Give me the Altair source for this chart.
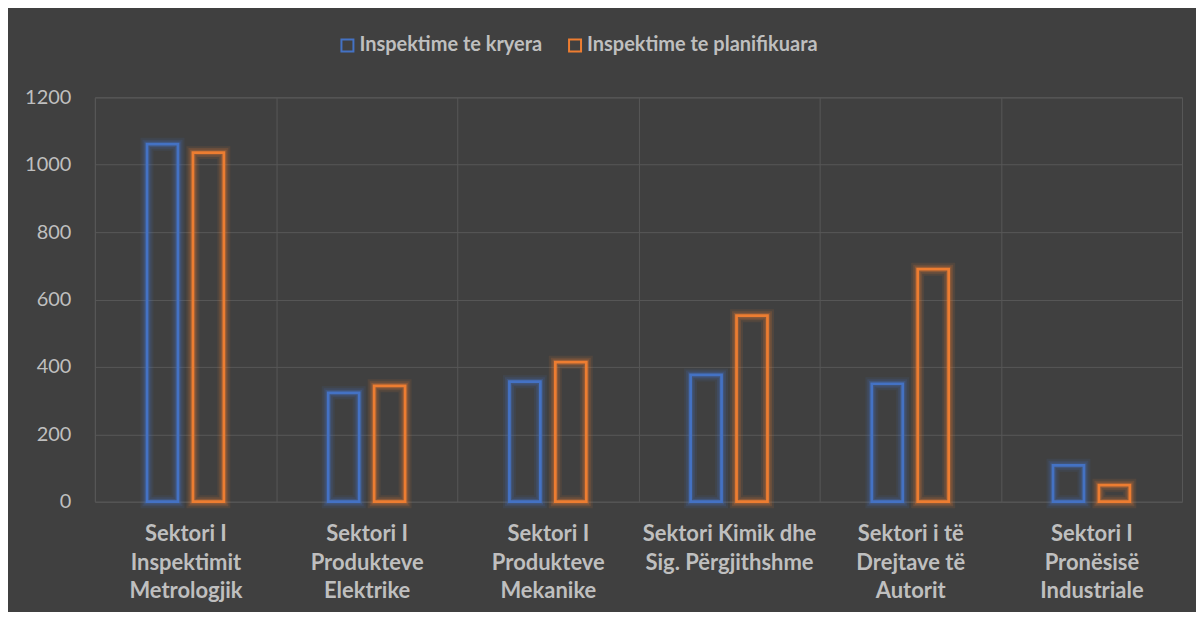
import altair as alt
import pandas as pd

categories = [
    "Sektori I\nInspektimit\nMetrologjik",
    "Sektori I\nProdukteve\nElektrike",
    "Sektori I\nProdukteve\nMekanike",
    "Sektori Kimik dhe\nSig. Përgjithshme",
    "Sektori i të\nDrejtave të\nAutorit",
    "Sektori I\nPronësisë\nIndustriale",
]
series = ["Inspektime te kryera", "Inspektime te planifikuara"]
kryera = [1061, 323, 356, 376, 350, 108]
planifikuara = [1036, 344, 414, 552, 690, 49]
colors = ["#4472c4", "#ed7d31"]

rows = []
for c, a, b in zip(categories, kryera, planifikuara):
    rows.append({"category": c, "series": series[0], "value": a})
    rows.append({"category": c, "series": series[1], "value": b})
df = pd.DataFrame(rows)

FONT = "Lato"
TXT = "#bfbfbf"
GRID = "#575757"

x_enc = alt.X(
    "category:N",
    sort=categories,
    title=None,
    scale=alt.Scale(paddingInner=0, paddingOuter=0),
    axis=alt.Axis(
        labelExpr="split(datum.label, '\\n')",
        labelAngle=0,
        labelFont=FONT,
        labelFontSize=22,
        labelFontWeight="bold",
        labelColor=TXT,
        labelLineHeight=28.5,
        labelPadding=22,
        labelBaseline="top",
        tickBand="extent",
        grid=True,
        gridColor=GRID,
        gridWidth=1,
        ticks=False,
        domain=False,
    ),
)
y_enc = alt.Y(
    "value:Q",
    title=None,
    scale=alt.Scale(domain=[0, 1200]),
    axis=alt.Axis(
        values=[0, 200, 400, 600, 800, 1000, 1200],
        format="d",
        labelFont=FONT,
        labelFontSize=20,
        labelColor=TXT,
        labelPadding=24,
        grid=True,
        gridColor=GRID,
        gridWidth=1,
        ticks=False,
        domain=False,
    ),
)
xoff = alt.XOffset(
    "series:N", sort=series, scale=alt.Scale(paddingInner=0, paddingOuter=0.973)
)

legend = alt.Legend(
    title=None,
    orient="none",
    direction="horizontal",
    legendX=243,
    legendY=-62,
    symbolType="square",
    symbolSize=144,
    symbolStrokeWidth=2,
    symbolFillColor="transparent",
    symbolOpacity=1,
    labelFont=FONT,
    labelFontSize=20,
    labelFontWeight="bold",
    labelColor=TXT,
    labelOffset=2,
    columnPadding=22,
    labelLimit=400,
)

base = alt.Chart(df)


def layer(sw, op):
    return base.mark_bar(
        width=31, filled=False, strokeWidth=sw, strokeOpacity=op
    ).encode(
        x=x_enc,
        y=y_enc,
        xOffset=xoff,
        stroke=alt.Stroke(
            "series:N",
            sort=series,
            scale=alt.Scale(domain=series, range=colors),
            legend=legend,
        ),
    )


chart = (
    alt.layer(
        layer(13, 0.10),
        layer(9, 0.16),
        layer(5.5, 0.25),
        layer(2.75, 1.0),
    )
    .properties(
        width=1089,
        height=405,
        padding={"left": 87, "top": 89, "right": 14, "bottom": 110},
        autosize=alt.AutoSizeParams(type="none"),
        background="#404040",
    )
    .configure_view(stroke=GRID, strokeWidth=1)
)

chart.save("out.html", embed_options={"renderer": "svg", "actions": False})
